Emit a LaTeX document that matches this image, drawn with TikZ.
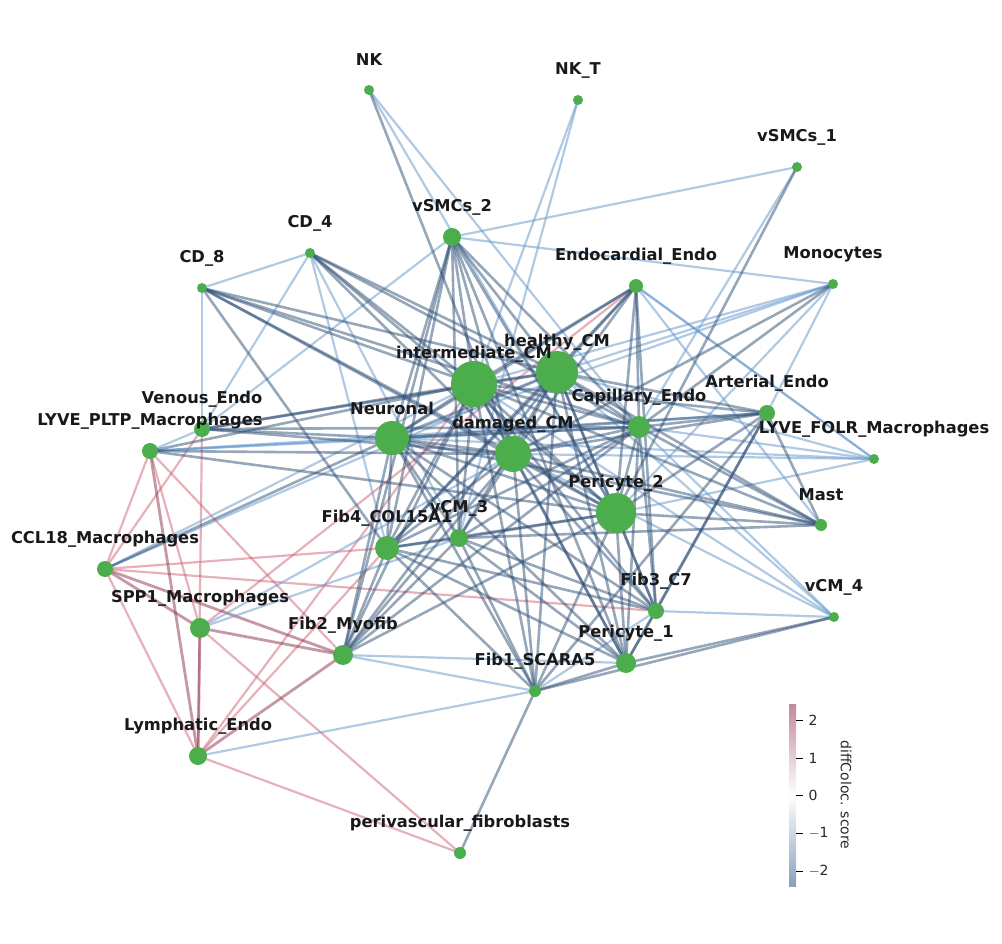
\documentclass[tikz,border=0pt]{standalone}
\usepackage{fontspec}
\setmainfont{DejaVu Sans}
\begin{document}
\begin{tikzpicture}[x=1pt,y=-1pt,
  db/.style={draw={rgb,255:red,47;green,79;blue,117},opacity=0.5,line width=2.6pt},
  lb/.style={draw={rgb,255:red,100;green,150;blue,200},opacity=0.5,line width=2.2pt},
  rd/.style={draw={rgb,255:red,205;green,100;blue,115},opacity=0.5,line width=2.2pt},
  dr/.style={draw={rgb,255:red,140;green,50;blue,75},opacity=0.5,line width=2.8pt},
  lab/.style={font=\fontsize{16.3}{18}\selectfont\bfseries,text={rgb,255:red,25;green,25;blue,25}},
  tk/.style={font=\fontsize{14}{16}\selectfont,text={rgb,255:red,40;green,40;blue,40}}]
\useasboundingbox (0,0) rectangle (1002,944);
\definecolor{ng}{RGB}{76,173,76}
\tikzset{nd/.style={circle,fill=ng,inner sep=0pt,draw=none}}
\foreach \n/\x/\y/\r/\t in {
 NK/369/90/5/NK, NKT/578/100/5/NK\_T, vSa/797/167/5/vSMCs\_1, CDf/310/253/5/CD\_4,
 vSb/452/237/9/vSMCs\_2, CDe/202/288/5/CD\_8, Endoc/636/286/7/Endocardial\_Endo,
 Mono/833/284/5/Monocytes, heal/557/372/21/healthy\_CM, inter/474/384/23/intermediate\_CM,
 Art/767/413/8/Arterial\_Endo, Ven/202/429/8/Venous\_Endo, LP/150/451/8/LYVE\_PLTP\_Macrophages,
 Neur/392/438/17/Neuronal, Cap/639/427/11/Capillary\_Endo, dam/513/454/18/damaged\_CM,
 LF/874/459/5/LYVE\_FOLR\_Macrophages, Pera/616/513/20/Pericyte\_2, Mast/821/525/6/Mast,
 vCMc/459/538/9/vCM\_3, Fibf/387/548/12/Fib4\_COL15A1, CCL/105/569/8/CCL18\_Macrophages,
 Fibc/656/611/8/Fib3\_C7, vCMd/834/617/5/vCM\_4, SPP/200/628/10/SPP1\_Macrophages,
 Fibb/343/655/10/Fib2\_Myofib, Perb/626/663/10/Pericyte\_1, Fiba/535/691/6/Fib1\_SCARA5,
 Lym/198/756/9/Lymphatic\_Endo, peri/460/853/6/perivascular\_fibroblasts}
 { \coordinate (\n) at (\x,\y); }
\begin{scope}
\foreach \a/\b in {CCL/LP,CCL/Ven,CCL/Lym,CCL/Fibf,CCL/Fibc,LP/SPP,LP/Fibb,Ven/Lym,SPP/peri,Lym/Fibf,Lym/peri,Endoc/SPP,Lym/inter}
 \draw[rd] (\a) -- (\b);
\foreach \a/\b in {CCL/SPP,CCL/Fibb,LP/Lym,SPP/Fibb,Lym/Fibb,SPP/Lym}
 \draw[dr] (\a) -- (\b);
\foreach \a/\b in {NK/Pera,NK/Cap,NKT/vCMc,NKT/inter,vSa/vSb,vSa/Cap,CDf/CDe,CDf/vCMc,CDf/Fibf,
 vSb/Ven,Endoc/Mast,Endoc/LF,Mono/inter,Mono/heal,Mono/Neur,Mono/Art,Mono/Pera,Art/LP,
 LF/Cap,LF/Neur,LF/dam,LF/heal,LF/Pera,LF/Endoc,vCMd/heal,vCMd/inter,vCMd/dam,vCMd/Fibc,vCMd/Cap,
 Ven/LP,Ven/CDf,LP/Cap,CCL/inter,CCL/heal,SPP/dam,SPP/vCMc,Lym/Fiba,Fibb/Fiba,Fibb/Perb,
 Fiba/Fibc,CDe/Ven,Neur/LP,vSb/Mono}
 \draw[lb] (\a) -- (\b);
\foreach \a/\b in {NK/dam,vSa/Pera,CDf/inter,CDf/heal,CDf/dam,CDf/Pera,CDf/Cap,
 CDe/inter,CDe/heal,CDe/dam,CDe/Cap,CDe/Fibf,CDe/Pera,
 vSb/Neur,vSb/inter,vSb/heal,vSb/dam,vSb/Pera,vSb/Fibf,vSb/vCMc,vSb/Cap,vSb/Fibb,vSb/Perb,
 Endoc/inter,Endoc/heal,Endoc/dam,Endoc/Pera,Endoc/Cap,Endoc/Neur,Endoc/Fibf,Endoc/Fibc,
 Mono/Cap,Mono/dam,Art/heal,Art/inter,Art/dam,Art/Cap,Art/Pera,Art/Fibc,Art/Mast,Art/Perb,Art/Neur,Art/Fiba,
 Mast/heal,Mast/inter,Mast/dam,Mast/Cap,Mast/Pera,Mast/vCMc,Mast/Neur,
 vCMd/Perb,vCMd/Fiba,Ven/Neur,Ven/inter,Ven/heal,Ven/Cap,Ven/dam,
 LP/inter,LP/dam,LP/Pera,CCL/Neur,
 Fibb/Neur,Fibb/inter,Fibb/heal,Fibb/dam,Fibb/Pera,Fibb/Fibf,Fibb/vCMc,Fibb/Cap,
 Fiba/Perb,Fiba/peri,Fiba/dam,Fiba/Neur,Fiba/Fibf,Fiba/inter,Fiba/Pera,Fiba/vCMc,Fiba/heal,
 Perb/Fibc,Perb/Pera,Perb/dam,Perb/inter,Perb/heal,Perb/Neur,Perb/Fibf,Perb/vCMc,Perb/Cap,
 Fibc/Pera,Fibc/dam,Fibc/inter,Fibc/heal,Fibc/Fibf,Fibc/vCMc,Fibc/Neur,Fibc/Cap,
 inter/heal,inter/dam,inter/Neur,inter/Cap,inter/Pera,inter/vCMc,inter/Fibf,
 heal/dam,heal/Neur,heal/Cap,heal/Pera,heal/vCMc,heal/Fibf,
 dam/Neur,dam/Cap,dam/Pera,dam/vCMc,dam/Fibf,Neur/Cap,Neur/Pera,Neur/vCMc,Neur/Fibf,
 Cap/Pera,Cap/vCMc,Cap/Fibf,Pera/vCMc,Pera/Fibf,vCMc/Fibf}
 \draw[db] (\a) -- (\b);
\end{scope}
\foreach \n/\x/\y/\r/\t in {
 NK/369/90/5/NK, NKT/578/100/5/NK\_T, vSa/797/167/5/vSMCs\_1, CDf/310/253/5/CD\_4,
 vSb/452/237/9/vSMCs\_2, CDe/202/288/5/CD\_8, Endoc/636/286/7/Endocardial\_Endo,
 Mono/833/284/5/Monocytes, heal/557/372/21/healthy\_CM, inter/474/384/23/intermediate\_CM,
 Art/767/413/8/Arterial\_Endo, Ven/202/429/8/Venous\_Endo, LP/150/451/8/LYVE\_PLTP\_Macrophages,
 Neur/392/438/17/Neuronal, Cap/639/427/11/Capillary\_Endo, dam/513/454/18/damaged\_CM,
 LF/874/459/5/LYVE\_FOLR\_Macrophages, Pera/616/513/20/Pericyte\_2, Mast/821/525/6/Mast,
 vCMc/459/538/9/vCM\_3, Fibf/387/548/12/Fib4\_COL15A1, CCL/105/569/8/CCL18\_Macrophages,
 Fibc/656/611/8/Fib3\_C7, vCMd/834/617/5/vCM\_4, SPP/200/628/10/SPP1\_Macrophages,
 Fibb/343/655/10/Fib2\_Myofib, Perb/626/663/10/Pericyte\_1, Fiba/535/691/6/Fib1\_SCARA5,
 Lym/198/756/9/Lymphatic\_Endo, peri/460/853/6/perivascular\_fibroblasts}
 { \node[nd,minimum size=2*\r pt] (n\n) at (\n) {};
   \node[lab] (l\n) at (\x,\y-30) {\t}; }
\shade[bottom color={rgb,255:red,138;green,160;blue,190},top color={rgb,255:red,192;green,138;blue,154},middle color=white] (789,886) rectangle (796,704);
\foreach \v/\yy in {2/720,1/758,0/795,{$-$1}/833,{$-$2}/871}
 { \draw[line width=1pt] (796,\yy) -- (803,\yy); \node[tk,anchor=west] at (805,\yy) {\v}; }
\node[tk,rotate=-90] (cbl) at (846,795) {diffColoc. score};
\end{tikzpicture}
\end{document}
